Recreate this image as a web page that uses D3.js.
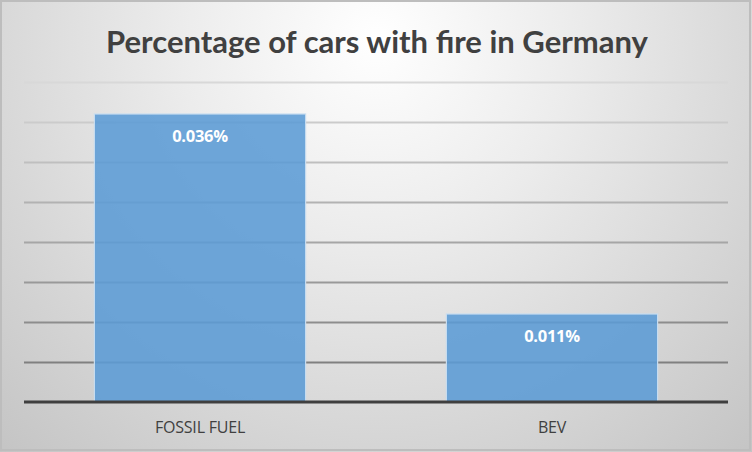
<!DOCTYPE html>
<html>
<head>
<meta charset="utf-8">
<script src="https://cdn.jsdelivr.net/npm/d3@7"></script>
<style>
html,body{margin:0;padding:0;background:#fff;}
svg{display:block;}
</style>
</head>
<body>
<svg id="chart" width="752" height="452"></svg>
<script>
const categories = ["FOSSIL FUEL", "BEV"];
const values = [0.036, 0.011];
const valueLabels = ["0.036%", "0.011%"];
const yTicks = [0, 0.005, 0.01, 0.015, 0.02, 0.025, 0.03, 0.035, 0.04];
const title = "Percentage of cars with fire in Germany";

const W = 752, H = 452;
const plot = {left: 24, right: 728, top: 82, bottom: 402};
const svg = d3.select("#chart");
const defs = svg.append("defs");

const bg = defs.append("radialGradient").attr("id","bg")
  .attr("gradientUnits","userSpaceOnUse")
  .attr("cx",376).attr("cy",40).attr("r",560).attr("fx",376).attr("fy",40);
bg.append("stop").attr("offset","0%").attr("stop-color","#ffffff");
bg.append("stop").attr("offset","35%").attr("stop-color","#ececec");
bg.append("stop").attr("offset","100%").attr("stop-color","#c4c4c4");

svg.append("rect").attr("x",0).attr("y",0).attr("width",W).attr("height",H)
  .attr("fill","url(#bg)");
svg.append("rect").attr("x",1).attr("y",1).attr("width",W-3).attr("height",H-3)
  .attr("fill","none").attr("stroke","#bdbdbd").attr("stroke-width",2);

const x = d3.scaleBand().domain(categories).range([plot.left, plot.right])
  .paddingInner(0.4).paddingOuter(0.2);
const y = d3.scaleLinear().domain([0, 0.04]).range([plot.bottom, plot.top]);
const gridColor = d3.scaleLinear().domain([0.04, 0.005]).range(["#d8d8d8", "#808080"]);

// gridlines
svg.append("g")
  .attr("transform",`translate(${plot.left},0)`)
  .call(d3.axisLeft(y).tickValues(yTicks.slice(1)).tickSize(-(plot.right-plot.left)).tickFormat(""))
  .call(g => g.select(".domain").remove())
  .call(g => g.selectAll(".tick line").attr("stroke", d => gridColor(d)).attr("stroke-width",2));

// bars
svg.append("g").selectAll("rect").data(categories).join("rect")
  .attr("x", d => x(d))
  .attr("y", (d,i) => y(values[i]))
  .attr("width", x.bandwidth())
  .attr("height", (d,i) => y(0) - y(values[i]))
  .attr("fill","#5b9bd5").attr("fill-opacity",0.88)
  .attr("stroke","#c6dcf0").attr("stroke-width",1.2);

// baseline / x axis
const xa = svg.append("g").attr("transform",`translate(0,${plot.bottom})`)
  .call(d3.axisBottom(x).tickSize(0).tickPadding(20));
xa.select(".domain").attr("stroke","#3f3f3f").attr("stroke-width",3)
  .attr("d",`M${plot.left},0H${plot.right}`);
xa.selectAll(".tick text").attr("font-family","'Open Sans', sans-serif")
  .attr("font-size",16).attr("fill","#404040").attr("letter-spacing","-0.2");

// value labels
svg.append("g").selectAll("text").data(categories).join("text")
  .attr("x", d => x(d) + x.bandwidth()/2)
  .attr("y", (d,i) => y(values[i]) + 28)
  .attr("text-anchor","middle")
  .attr("font-family","'Open Sans', sans-serif").attr("font-weight","bold")
  .attr("font-size",16.5).attr("fill","#ffffff").attr("letter-spacing","-0.3")
  .text((d,i) => valueLabels[i]);

// title
svg.append("text").attr("x",377).attr("y",53).attr("text-anchor","middle")
  .attr("font-family","Lato, sans-serif").attr("font-weight","bold")
  .attr("font-size",31).attr("fill","#404040")
  .text(title);
</script>
</body>
</html>
